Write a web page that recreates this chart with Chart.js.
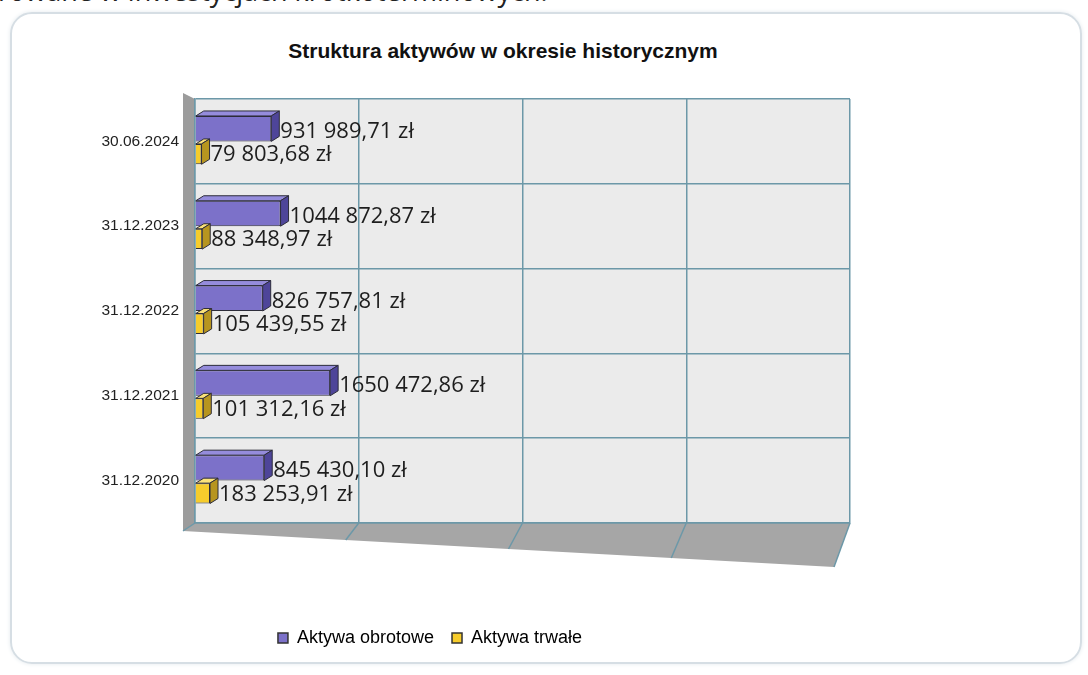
<!DOCTYPE html>
<html>
<head>
<meta charset="utf-8">
<script src="https://cdn.jsdelivr.net/npm/chart.js@4.4.1/dist/chart.umd.min.js"></script>
<style>
  body { margin: 0; background: #fff; width: 1088px; height: 675px; overflow: hidden; position: relative; }
  #topText { position: absolute; left: -2px; top: -23px; font: 27px "Open Sans", sans-serif; line-height: 27px; color: #222; white-space: nowrap; }
  #frame { position: absolute; left: 10px; top: 12px; width: 1068px; height: 648px; border: 2px solid #d6dee4; border-radius: 22px; box-shadow: 0 0 4px #e4eaee; }
  #title { position: absolute; left: 0; width: 1006px; top: 39px; text-align: center; font: bold 21px "Liberation Sans", Arial, sans-serif; color: #111; }
  #wrap { position: absolute; left: 0; top: 0; width: 1088px; height: 675px; }
</style>
</head>
<body>
<div id="topText">rowane w inwestycjach krótkoterminowych.</div>
<div id="frame"></div>
<div id="title">Struktura aktywów w okresie historycznym</div>
<div id="wrap"><canvas id="aktywaChart" width="1088" height="675"></canvas></div>
<script>
// dane z wykresu
const okresy = ['30.06.2024', '31.12.2023', '31.12.2022', '31.12.2021', '31.12.2020'];
const aktywaObrotowe = [931989.71, 1044872.87, 826757.81, 1650472.86, 845430.10];
const aktywaTrwale = [79803.68, 88348.97, 105439.55, 101312.16, 183253.91];
const nazwySerii = ['Aktywa obrotowe', 'Aktywa trwałe'];

const kolory = {
    obrotowe: { front: '#7c71c9', top: '#958cdc', side: '#4e4599' },
    trwale: { front: '#f6cc2c', top: '#fbe27a', side: '#b7951f' }
};
const DX = 8, DY = 5;

// jak na obrazku: spacja tylko przed ostatnimi trzema cyframi
function formatZl(v) {
    const parts = v.toFixed(2).split('.');
    let int = parts[0];
    if (int.length > 3) {
        int = int.slice(0, -3) + ' ' + int.slice(-3);
    }
    return int + ',' + parts[1] + ' zł';
}

// tlo, sciana i podloga
const tloPlugin = {
    id: 'tlo3d',
    beforeDraw(chart) {
        const ctx = chart.ctx;
        const a = chart.chartArea;
        const xs = chart.scales.x;
        ctx.save();
        ctx.fillStyle = '#ebebeb';
        ctx.fillRect(a.left, a.top, a.right - a.left, a.bottom - a.top);
        // lewa sciana
        ctx.fillStyle = '#9c9c9c';
        ctx.beginPath();
        ctx.moveTo(a.left - 12, a.top - 6);
        ctx.lineTo(a.left, a.top);
        ctx.lineTo(a.left, a.bottom);
        ctx.lineTo(a.left - 12, a.bottom + 8);
        ctx.closePath();
        ctx.fill();
        // podloga
        ctx.fillStyle = '#a6a6a6';
        ctx.beginPath();
        ctx.moveTo(a.left, a.bottom);
        ctx.lineTo(a.right, a.bottom);
        ctx.lineTo(a.right - 16, a.bottom + 44);
        ctx.lineTo(a.left - 12, a.bottom + 8);
        ctx.closePath();
        ctx.fill();
        // linie na podlodze
        ctx.strokeStyle = '#6c98a8';
        ctx.lineWidth = 1.5;
        xs.ticks.forEach((t) => {
            const px = xs.getPixelForValue(t.value);
            const f = (px - a.left) / (a.right - a.left);
            const depth = 8 + f * 36;
            const shift = 12 + f * 4;
            ctx.beginPath();
            ctx.moveTo(px, a.bottom);
            ctx.lineTo(px - shift, a.bottom + depth);
            ctx.stroke();
        });
        ctx.restore();
    }
};

// efekt 3D slupkow + etykiety
const slupki3dPlugin = {
    id: 'slupki3d',
    afterDatasetsDraw(chart) {
        const ctx = chart.ctx;
        ctx.save();
        chart.data.datasets.forEach((ds, di) => {
            const meta = chart.getDatasetMeta(di);
            const k = di === 0 ? kolory.obrotowe : kolory.trwale;
            meta.data.forEach((bar, i) => {
                const p = bar.getProps(['x', 'y', 'base', 'height'], true);
                const t = p.y - p.height / 2, b = p.y + p.height / 2;
                ctx.lineWidth = 1;
                ctx.strokeStyle = '#2d2d3a';
                ctx.fillStyle = k.top;
                ctx.beginPath();
                ctx.moveTo(p.base, t);
                ctx.lineTo(p.x, t);
                ctx.lineTo(p.x + DX, t - DY);
                ctx.lineTo(p.base + DX, t - DY);
                ctx.closePath();
                ctx.fill(); ctx.stroke();
                ctx.fillStyle = k.side;
                ctx.beginPath();
                ctx.moveTo(p.x, t);
                ctx.lineTo(p.x + DX, t - DY);
                ctx.lineTo(p.x + DX, b - DY);
                ctx.lineTo(p.x, b);
                ctx.closePath();
                ctx.fill(); ctx.stroke();

                ctx.fillStyle = '#1e1e1e';
                ctx.font = '22px "Open Sans", sans-serif';
                ctx.textBaseline = 'middle';
                ctx.textAlign = 'left';
                ctx.fillText(formatZl(ds.data[i]), p.x + DX + 1, p.y + (di === 0 ? 3 : 1));
            });
        });
        ctx.restore();
    }
};

const ctxCanvas = document.getElementById('aktywaChart').getContext('2d');
new Chart(ctxCanvas, {
    type: 'bar',
    data: {
        labels: okresy,
        datasets: [
            {
                label: nazwySerii[0],
                data: aktywaObrotowe,
                backgroundColor: kolory.obrotowe.front,
                borderColor: '#2d2d3a',
                borderWidth: 1,
                categoryPercentage: 0.6,
                barPercentage: 1
            },
            {
                label: nazwySerii[1],
                data: aktywaTrwale,
                backgroundColor: kolory.trwale.front,
                borderColor: '#2d2d3a',
                borderWidth: 1,
                categoryPercentage: 0.6,
                barPercentage: 0.8
            }
        ]
    },
    options: {
        indexAxis: 'y',
        responsive: false,
        animation: false,
        layout: { padding: { left: 10, right: 238, top: 99, bottom: 18 } },
        scales: {
            x: {
                min: 0,
                max: 8000000,
                ticks: { display: false, stepSize: 2000000 },
                grid: { color: '#6c98a8', lineWidth: 1.5, drawTicks: false },
                border: { display: true, color: '#6c98a8', width: 1.5 },
                afterFit: function (scale) { scale.height = 88; }
            },
            y: {
                ticks: {
                    color: '#222',
                    padding: 16,
                    font: { size: 15.5, family: '"Liberation Sans", Arial, sans-serif' }
                },
                grid: { color: '#6c98a8', lineWidth: 1.5, offset: true, drawTicks: false },
                border: { display: true, color: '#6c98a8', width: 1.5 },
                afterFit: function (scale) { scale.width = 185; }
            }
        },
        plugins: {
            title: { display: false },
            tooltip: { enabled: false },
            legend: {
                position: 'bottom',
                labels: {
                    boxWidth: 10,
                    boxHeight: 10,
                    padding: 18,
                    color: '#222',
                    font: { size: 18, family: '"Liberation Sans", Arial, sans-serif' },
                    generateLabels: function (chart) {
                        return chart.data.datasets.map((ds, i) => ({
                            text: ds.label,
                            fillStyle: ds.backgroundColor,
                            strokeStyle: '#333',
                            lineWidth: 1.5,
                            datasetIndex: i
                        }));
                    }
                }
            }
        }
    },
    plugins: [tloPlugin, slupki3dPlugin]
});
</script>
</body>
</html>
